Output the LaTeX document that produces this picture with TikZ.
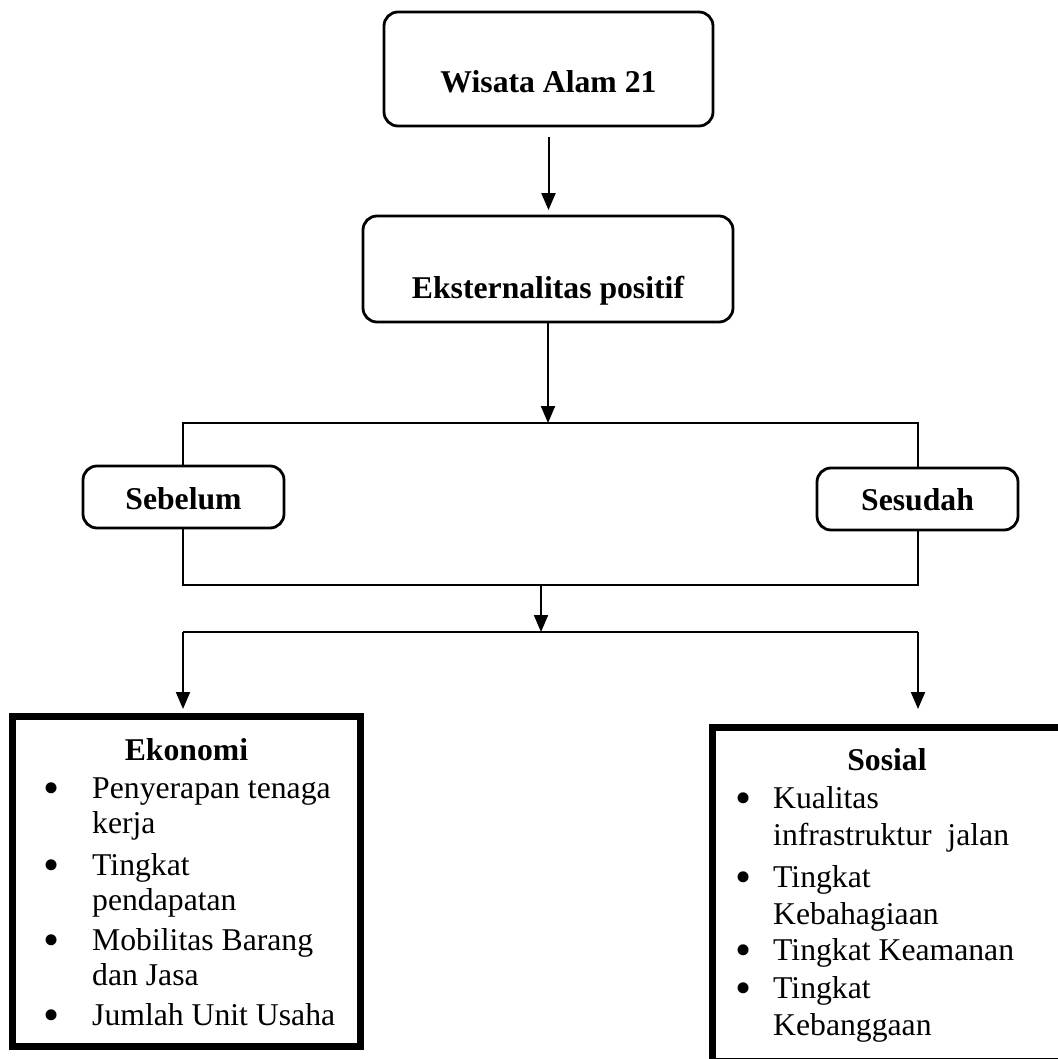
\documentclass[tikz,border=0pt]{standalone}
\usepackage{fontspec}
\setmainfont{Liberation Serif}
\usetikzlibrary{arrows.meta}
\newcommand{\bigbul}{\raisebox{-0.16em}{\scalebox{1.45}{\textbullet}}}
\newcommand{\ebul}{\makebox[47.5pt][l]{\hspace*{-1pt}\bigbul}}
\newcommand{\eind}{\hspace*{47.5pt}}
\newcommand{\sbul}{\makebox[36.5pt][l]{\hspace*{-1pt}\bigbul}}
\newcommand{\sind}{\hspace*{36.5pt}}
\begin{document}
\begin{tikzpicture}[x=1pt,y=-1pt,
  font=\fontsize{31.7}{35}\selectfont,
  rbox/.style={draw, rounded corners=14pt, line width=2.8pt, fill=white, inner sep=0pt,
    font=\fontsize{31.7}{35}\selectfont\bfseries},
  thickbox/.style={draw, line width=7pt, inner sep=0pt},
  conn/.style={line width=2pt},
  arr/.style={conn, -{Triangle[length=17pt,width=14pt]}},
  item/.style={anchor=base west, inner sep=0pt},
  sitem/.style={anchor=base west, inner sep=0pt, font=\fontsize{31.7}{37}\selectfont},
  title/.style={anchor=base, inner sep=0pt, font=\fontsize{31.7}{35}\selectfont\bfseries}
]
\useasboundingbox (0,0) rectangle (1057,1059);

% top boxes
\node[rbox, minimum width=329pt, minimum height=114pt, text height=81pt, text depth=33pt] (w) at (548.5,69) {Wisata Alam 21};
\node[rbox, minimum width=370pt, minimum height=106pt, text height=82pt, text depth=24pt] (e) at (548,269) {Eksternalitas positif};

% junction coordinates
\coordinate (tl) at (183,423);
\coordinate (tr) at (918,423);
\coordinate (bl) at (183,585);
\coordinate (br) at (918,585);
\coordinate (m) at (541,585);
\coordinate (ll) at (183,632);
\coordinate (lr) at (918,632);

% Sebelum / Sesudah
\node[rbox, minimum width=201pt, minimum height=62pt, text height=43pt, text depth=19pt] (sb) at (183.5,497) {Sebelum};
\node[rbox, minimum width=201pt, minimum height=62pt, text height=42pt, text depth=20pt] (sd) at (917.5,499) {Sesudah};

% bottom boxes
\node[thickbox, minimum width=348pt, minimum height=330pt] (eko) at (186.5,881.5) {};
\node[thickbox, minimum width=349pt, minimum height=333.5pt] (sos) at (887,894.25) {};

% connectors
\draw[arr, shorten <=9.5pt, shorten >=4.5pt] (w.south) -- (w.south |- e.north);
\draw[arr] (e.south) -- (e.south |- tl);
\draw[conn] (tl |- sb.north) -- (tl) -- (tr) -- (tr |- sd.north);
\draw[conn] (tl |- sb.south) -- (bl) -- (br) -- (tr |- sd.south);
\draw[arr] (m) -- (m |- ll);
\draw[conn] (ll) -- (lr);
\draw[arr, shorten >=4pt] (ll) -- (ll |- eko.north);
\draw[arr, shorten >=15pt] (lr) -- (lr |- sos.north);

% Ekonomi content
\node[title] (ekot) at (186.5,760) {Ekonomi};
\node[item] (e1) at (44.5,798) {\begin{tabular}[t]{@{}l@{}}\ebul Penyerapan tenaga\\ \eind kerja\end{tabular}};
\node[item] (e2) at (44.5,875) {\begin{tabular}[t]{@{}l@{}}\ebul Tingkat\\ \eind pendapatan\end{tabular}};
\node[item] (e3) at (44.5,950) {\begin{tabular}[t]{@{}l@{}}\ebul Mobilitas Barang\\ \eind dan Jasa\end{tabular}};
\node[item] (e4) at (44.5,1025) {\ebul Jumlah Unit Usaha};

% Sosial content
\node[title] (sost) at (887,770) {Sosial};
\node[sitem] (s1) at (736.5,808) {\begin{tabular}[t]{@{}l@{}}\sbul Kualitas\\ \sind infrastruktur~ jalan\end{tabular}};
\node[sitem] (s2) at (736.5,887) {\begin{tabular}[t]{@{}l@{}}\sbul Tingkat\\ \sind Kebahagiaan\end{tabular}};
\node[sitem] (s3) at (736.5,960) {\sbul Tingkat Keamanan};
\node[sitem] (s4) at (736.5,998) {\begin{tabular}[t]{@{}l@{}}\sbul Tingkat\\ \sind Kebanggaan\end{tabular}};
\end{tikzpicture}
\end{document}
